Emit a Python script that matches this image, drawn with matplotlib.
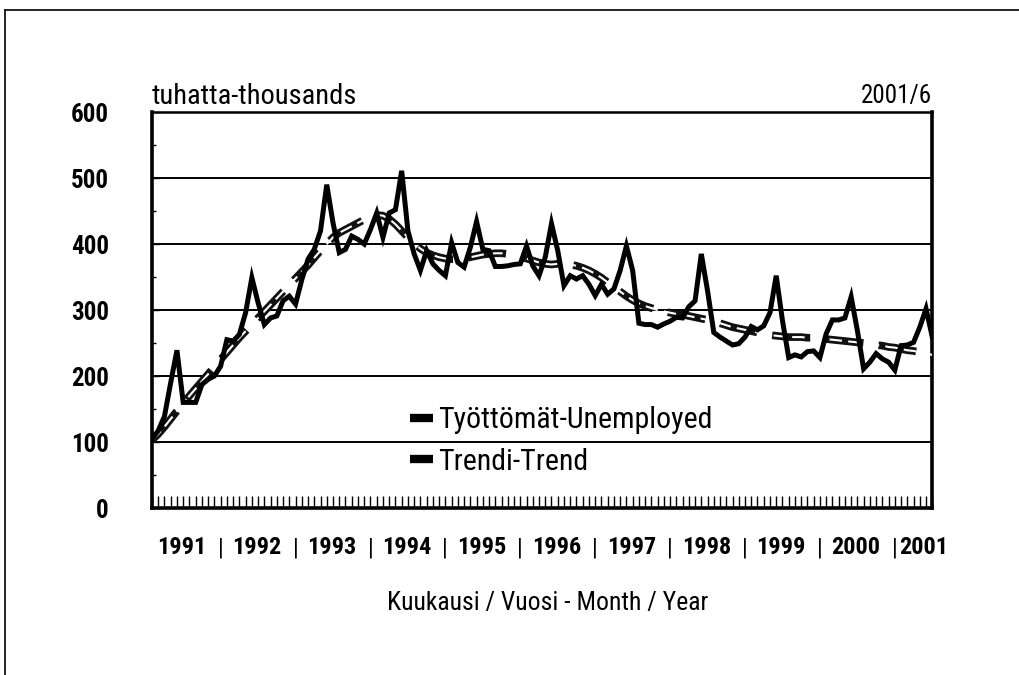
import numpy as np
import matplotlib
matplotlib.use('Agg')
import matplotlib.pyplot as plt
from matplotlib.lines import Line2D
from matplotlib.ticker import MultipleLocator
import matplotlib.transforms as mtransforms

plt.rcParams['font.family'] = ['Roboto Condensed', 'Liberation Sans Narrow',
                               'DejaVu Sans Condensed', 'Roboto', 'DejaVu Sans']

# monthly values, 1991/1 - 2001/6 (thousands)
unemployed = [
    105, 117, 139, 190, 239, 160, 160, 160, 187, 195, 200, 215,
    255, 253, 263, 296, 349, 311, 278, 288, 291, 314, 321, 309,
    346, 377, 392, 420, 490, 432, 387, 392, 412, 407, 400, 422,
    447, 410, 447, 452, 511, 420, 385, 360, 390, 370, 360, 352,
    402, 372, 365, 395, 434, 392, 390, 366, 366, 367, 369, 370,
    397, 367, 352, 380, 431, 390, 337, 352, 347, 352, 339, 322,
    339, 324, 332, 360, 397, 360, 280, 278, 278, 274, 279, 283,
    289, 288, 305, 314, 385, 329, 266, 259, 253, 247, 249, 259,
    275, 270, 276, 296, 352, 284, 228, 232, 229, 237, 238, 228,
    264, 285, 285, 288, 320, 269, 211, 221, 234, 226, 221, 209,
    246, 247, 251, 274, 302, 259,
]
trend = [
    103, 112, 123, 135, 147, 158, 170, 181, 192, 203, 214, 225,
    236, 247, 258, 268, 278, 288, 298, 308, 318, 328, 338, 348,
    358, 368, 379, 390, 400, 410, 417, 422, 427, 432, 437, 441,
    444, 443, 438, 430, 420, 410, 401, 393, 387, 383, 380, 378,
    377, 377, 378, 380, 382, 384, 385, 386, 386, 385, 383, 380,
    378, 375, 372, 370, 369, 370, 370, 369, 367, 364, 360, 355,
    349, 342, 335, 328, 321, 315, 310, 306, 303, 300, 298, 296,
    294, 293, 291, 289, 287, 285, 283, 280, 277, 274, 272, 270,
    268, 266, 264, 262, 261, 260, 259, 259, 259, 258, 258, 257,
    256, 255, 254, 253, 252, 251, 250, 249, 247, 246, 244, 243,
    241, 239, 238, 236, 234, 232,
]
years = ['1991', '1992', '1993', '1994', '1995', '1996',
         '1997', '1998', '1999', '2000', '2001']
y_ticks = [0, 100, 200, 300, 400, 500, 600]

months = np.arange(len(unemployed))

fig = plt.figure(figsize=(10.2, 6.75), dpi=100)
ax = fig.add_axes([0.149, 0.2474, 0.765, 0.5866])

for y in y_ticks[1:-1]:
    ax.axhline(y, color='black', lw=1.4, zorder=1)

# trend: thick band drawn as dark dashes with a white core
ax.plot(months, trend, color='#111111', lw=5.5, dashes=(5, 2), zorder=2)
ax.plot(months, trend, color='white', lw=1.5, dashes=(6, 3), zorder=3)
ax.plot(months, unemployed, color='black', lw=3.6, zorder=4,
        solid_joinstyle='miter')

ax.set_xlim(0, len(unemployed) - 1)
ax.set_ylim(0, 600)
ax.set_yticks(y_ticks)
ax.set_yticklabels([str(v) for v in y_ticks], fontsize=18, fontweight='bold')
ax.yaxis.set_minor_locator(MultipleLocator(50))
ax.tick_params(axis='y', which='major', direction='in', length=5, width=1,
               pad=31)
ax.tick_params(axis='y', which='minor', direction='in', length=3, width=1)
ax.set_xticks(months)
ax.tick_params(axis='x', direction='in', length=9, width=1, labelbottom=False)

for side in ['left', 'bottom', 'right']:
    ax.spines[side].set_linewidth(2.6)
ax.spines['top'].set_linewidth(1.8)

# year labels under the axis with separators
trans = mtransforms.blended_transform_factory(ax.transData, ax.transAxes)
for k, yr in enumerate(years):
    xc = 12 * k + 4.8 if k < 10 else 123.6
    ax.text(xc, -0.1, yr, transform=trans, ha='center', va='center',
            fontsize=17.5, fontweight='bold')
    if k > 0:
        ax.text(12 * k - 1, -0.1, '|', transform=trans, ha='center',
                va='center', fontsize=17)

fig.text(0.537, 0.107, 'Kuukausi / Vuosi - Month / Year', ha='center',
         va='center', fontsize=18.5)
ax.text(0.0, 1.04, 'tuhatta-thousands', transform=ax.transAxes, ha='left',
        va='center', fontsize=20.5)
ax.text(1.0, 1.04, '2001/6', transform=ax.transAxes, ha='right',
        va='center', fontsize=18)

handles = [Line2D([], [], color='black', lw=6, solid_capstyle='butt'),
           Line2D([], [], color='black', lw=6, solid_capstyle='butt')]
ax.legend(handles, ['Työttömät-Unemployed', 'Trendi-Trend'],
          loc='center left', bbox_to_anchor=(0.331, 0.169), frameon=False,
          fontsize=21.5, handlelength=0.75, handletextpad=0.17,
          labelspacing=0.45, borderpad=0, borderaxespad=0)

# page frame
fig.add_artist(Line2D([0.005, 0.005], [0.0, 0.985], color='black', lw=1.2,
                      transform=fig.transFigure))
fig.add_artist(Line2D([0.005, 1.0], [0.985, 0.985], color='black', lw=1.2,
                      transform=fig.transFigure))

fig.savefig('out.png', dpi=100)
